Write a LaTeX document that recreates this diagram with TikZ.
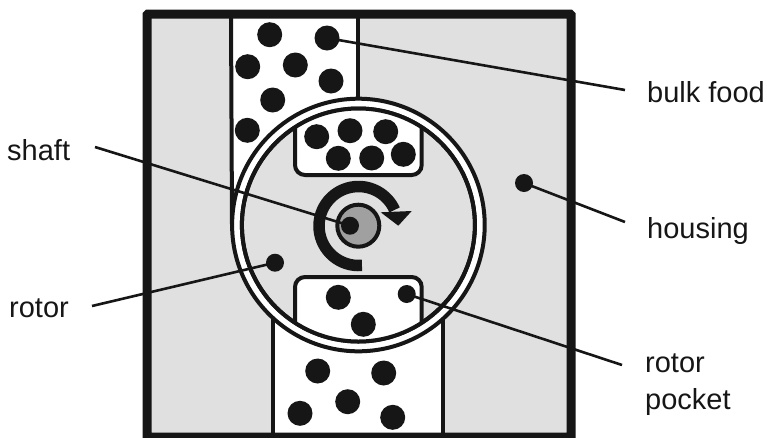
\documentclass[tikz,border=0pt]{standalone}
\usepackage{fontspec}
\setmainfont{Liberation Sans}
\definecolor{ink}{HTML}{161616}
\definecolor{housegray}{HTML}{E0E0E0}
\definecolor{shaftgray}{HTML}{A0A0A0}
\tikzset{
  x=1pt,y=1pt,
  food/.style={circle,fill=ink,draw=none,inner sep=0pt,outer sep=0pt,minimum size=25pt},
  marker/.style={circle,fill=ink,draw=none,inner sep=0pt,outer sep=0pt,minimum size=18pt},
  wall/.style={draw=ink,line width=4pt},
  leader/.style={draw=ink,line width=2.6pt},
  lbl/.style={font=\fontsize{29}{37}\selectfont,text=ink,inner sep=0pt,anchor=base west,align=left},
  pocketbox/.style={draw=ink,fill=white,line width=4pt,rounded corners=10pt},
  ringline/.style={circle,draw=ink,line width=4pt,inner sep=0pt,outer sep=0pt}
}
\begin{document}
\begin{tikzpicture}
\useasboundingbox (0,0) rectangle (767,-437);
% housing
\fill[housegray] (147,-14) rectangle (571,-440);
% channels
\fill[white] (231,-14) rectangle (358,-225);
\fill[white] (273,-225) rectangle (443,-440);
\draw[wall] (231,-14) -- (232,-225);
\draw[wall] (358,-14) -- (358,-120);
\draw[wall] (273,-300) -- (273,-440);
\draw[wall] (443,-300) -- (443,-440);
\draw[draw=ink,line width=9pt,rounded corners=1pt] (147,-14) rectangle (571,-437);
% rotor ring
\node[ringline,fill=white,minimum size=252.6pt] (ring) at (358.4,-225) {};
\node[ringline,fill=housegray,minimum size=233pt] (rotorbody) at (358.4,-225) {};
% pockets
\begin{scope}
\clip (358.4,-225) circle (116.5);
\draw[pocketbox] (295,-60) rectangle (421.7,-175);
\draw[pocketbox] (295,-277) rectangle (421.7,-390);
\end{scope}
\draw[draw=ink,line width=4pt] (rotorbody.center) circle (116.5);
% rotation arrow
\coordinate (axis) at (358.5,-226);
\draw[draw=ink,line width=11.5pt] ([shift={(275:39.5)}]axis) arc[start angle=275,end angle=24,radius=39.5];
\fill[ink] (380.7,-212.3) -- (411.7,-211) -- (398.3,-225.7) -- cycle;
% shaft
\node[ringline,fill=shaftgray,minimum size=42pt] (shaft) at (358.3,-225.7) {};
% food
\foreach \n/\x/\y in {a1/269.7/34.7,a2/327/38,a3/247.7/66.7,a4/295.3/65,a5/331/81,a6/272.7/100,a7/247.3/130.3,
  b1/316.7/136.7,b2/350/130.7,b3/385.7/131.7,b4/338.3/158.3,b5/371.7/158,b6/403.3/154.3,
  c1/338.3/297.3,c2/363.3/324.3,
  d1/317.7/371,d2/383.7/373,d3/347.7/401.7,d4/300/413.3,d5/392.7/417.3}
  {\node[food] (\n) at (\x,-\y) {};}
% markers
\node[marker] (shaftdot) at (350,-225.7) {};
\node[marker] (rotordot) at (275,-262.7) {};
\node[marker] (housedot) at (524,-183) {};
\node[marker] (pocketdot) at (406.7,-294) {};
% labels
\node[lbl] (lshaft) at (7,-160) {shaft};
\node[lbl] (lrotor) at (9,-317) {rotor};
\node[lbl] (lbulk) at (647,-102) {bulk food};
\node[lbl] (lhouse) at (647,-238) {housing};
\node[lbl] (lpocket1) at (645,-372) {rotor};
\node[lbl] (lpocket2) at (645,-409) {pocket};
% leaders
\coordinate (eshaft) at (95,-147);
\coordinate (erotor) at (92,-306);
\coordinate (ebulk) at (625,-90);
\coordinate (ehouse) at (625,-222);
\coordinate (epocket) at (622,-365);
\draw[leader] (eshaft) -- (shaftdot.center);
\draw[leader] (erotor) -- (rotordot.center);
\draw[leader] (ebulk) -- (a2.center);
\draw[leader] (ehouse) -- (housedot.center);
\draw[leader] (epocket) -- (pocketdot.center);
\end{tikzpicture}
\end{document}
